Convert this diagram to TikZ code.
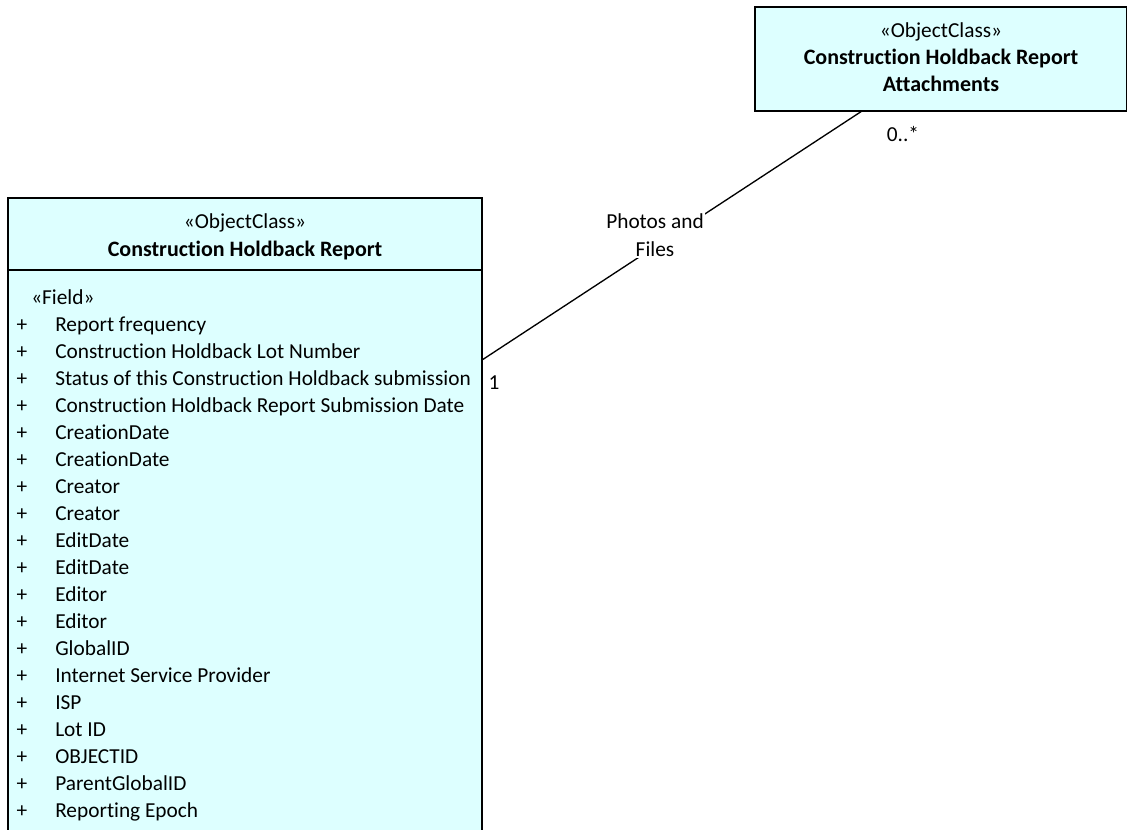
\documentclass[tikz,border=0pt]{standalone}
\usepackage{fontspec}
\setmainfont{Carlito}[RawFeature={-liga;-calt;-clig;-rlig}]
\definecolor{classfill}{HTML}{DDFFFF}
\begin{document}
\begin{tikzpicture}[x=0.75pt,y=-0.75pt,
    classbox/.style={draw=black,line width=1pt,fill=classfill},
    txt/.style={font=\fontsize{16}{21}\selectfont,inner sep=0pt,text height=13pt,text depth=3pt},
    boldtxt/.style={font=\fontsize{16.5}{21}\selectfont\bfseries},
    fieldtxt/.style={txt,anchor=west},
    every node/.style={txt}]
                \useasboundingbox (0,0) rectangle (1127,829);

                % attachments class
                \draw[classbox] (755,7) rectangle (1127,111);
                \node (attstereo) at (941,31) {«ObjectClass»};
                \node[boldtxt] (atttitle) at (941,58) {Construction Holdback Report};
                \node[boldtxt] (atttitle2) at (941,85) {Attachments};

                % report class
                \fill[classfill] (8,198) rectangle (482,835);
                \draw[line width=1pt] (8,835) -- (8,198) -- (482,198) -- (482,835);
                \draw[line width=1pt] (8,270) -- (482,270);
                \node (repstereo) at (245,222) {«ObjectClass»};
                \node[boldtxt] (reptitle) at (245,250) {Construction Holdback Report};
                \node[fieldtxt] (fieldstereo) at (31,298) {«Field»};
                \foreach \f [count=\i from 0] in {Report frequency, Construction Holdback Lot Number,
                    Status of this Construction Holdback submission, Construction Holdback Report Submission Date,
                    CreationDate, CreationDate, Creator, Creator, EditDate, EditDate, Editor, Editor,
                    GlobalID, Internet Service Provider, ISP, Lot ID, OBJECTID, ParentGlobalID, Reporting Epoch}
                {
                    \node (plus\i) at (22,325+27*\i) {+};
                    \node[fieldtxt] (field\i) at (55,325+27*\i) {\f};
                }

                % association
                \coordinate (repend) at (482,360);
                \coordinate (attend) at (862,111);
                \draw[line width=1pt] (repend) -- (attend);
                \node[fill=white,align=center,inner sep=1pt,text height=,text depth=,font=\fontsize{16}{21}\selectfont] (assoc) at (655,235) {Photos and\\Files};
                \node (mult1) at (494,383) {1};
                \node (mult2) at (903,135) {0..*};
\end{tikzpicture}
\end{document}
